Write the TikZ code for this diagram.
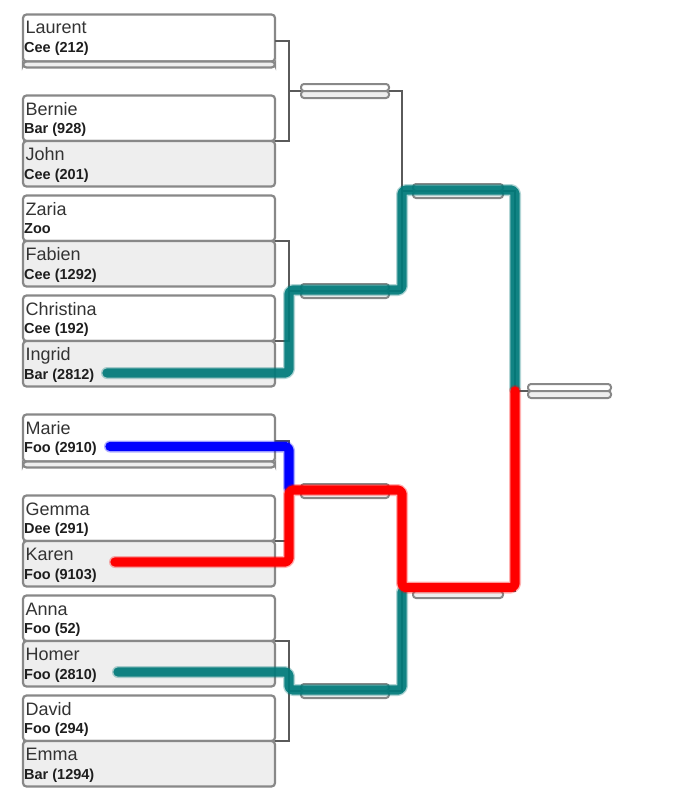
\documentclass[tikz,border=0pt]{standalone}
\usepackage{fontspec}
\setmainfont{Liberation Sans}
\usetikzlibrary{calc}
\definecolor{boxgray}{HTML}{888888}
\definecolor{slotfill}{HTML}{EEEEEE}
\definecolor{conngray}{HTML}{5A5A5A}
\definecolor{hlteal}{HTML}{007A7A}
\definecolor{hlred}{HTML}{FF0000}
\definecolor{hlblue}{HTML}{0000FF}
\definecolor{namecol}{HTML}{333333}
\definecolor{subcol}{HTML}{1E1E1E}
\tikzset{
  slot/.style={draw=boxgray, line width=2.2pt, rounded corners=3.5pt, inner sep=0pt, outer sep=0pt, anchor=north west, minimum width=252pt},
  tinyslot/.style={draw=boxgray, line width=2pt, rounded corners=3pt, inner sep=0pt, outer sep=0pt, anchor=north west, minimum height=7pt},
  nm/.style={anchor=base west, inner sep=0pt, text=namecol, font=\fontsize{18}{20}\selectfont},
  sb/.style={anchor=base west, inner sep=0pt, text=subcol, font=\fontsize{14.5}{16}\selectfont\bfseries},
  conn/.style={draw=conngray, line width=1.4pt},
  hlcore/.style={line width=9.3pt, line cap=round, line join=round, rounded corners=4pt},
  hlhalo/.style={line width=12pt, line cap=round, line join=round, rounded corners=4pt, opacity=0.3},
}
% team slot: name, top y, height, fill, title, subtitle
\newcommand\tslot[6]{%
  \node[slot, fill=#4, minimum height=#3pt] (#1) at (23,#2) {};
  \node[nm] (#1-n) at ($(#1.north west)+(2.5,19.5)$) {#5};
  \node[sb] (#1-s) at ($(#1.north west)+(1,38)$) {#6};
}
% small result box: name, left x, centre y, width
\newcommand\rbox[4]{%
  \node[tinyslot, fill=white, minimum width=#4pt] (#1t) at (#2,#3-7) {};
  \node[tinyslot, fill=slotfill, minimum width=#4pt] (#1b) at (#2,#3) {};
}
\begin{document}
\begin{tikzpicture}[x=1pt,y=-1pt]
\fill[white] (0,0) rectangle (680,792);
\useasboundingbox (0,0) rectangle (680,792);

% ---- round 1 ----
\tslot{lau}{14.5}{47}{white}{Laurent}{Cee (212)}
\node[slot, fill=slotfill, minimum height=6pt] (lau0) at (23,61.5) {};
\tslot{ber}{95.5}{45.5}{white}{Bernie}{Bar (928)}
\tslot{joh}{141}{45.5}{slotfill}{John}{Cee (201)}
\tslot{zar}{195.5}{45.5}{white}{Zaria}{Zoo}
\tslot{fab}{241}{45.5}{slotfill}{Fabien}{Cee (1292)}
\tslot{chr}{295.5}{45.5}{white}{Christina}{Cee (192)}
\tslot{ing}{341}{45.5}{slotfill}{Ingrid}{Bar (2812)}
\tslot{mar}{414.5}{47}{white}{Marie}{Foo (2910)}
\node[slot, fill=slotfill, minimum height=6pt] (mar0) at (23,461.5) {};
\tslot{gem}{495.5}{45.5}{white}{Gemma}{Dee (291)}
\tslot{kar}{541}{45.5}{slotfill}{Karen}{Foo (9103)}
\tslot{ann}{595.5}{45.5}{white}{Anna}{Foo (52)}
\tslot{hom}{641}{45.5}{slotfill}{Homer}{Foo (2810)}
\tslot{dav}{695.5}{45.5}{white}{David}{Foo (294)}
\tslot{emm}{741}{45.5}{slotfill}{Emma}{Bar (1294)}

% ---- later rounds ----
\rbox{ra}{301}{91}{88}
\rbox{rb}{301}{291}{88}
\rbox{rc}{301}{491}{88}
\rbox{rd}{301}{691}{88}
\rbox{sa}{413}{191}{90}
\rbox{sb}{413}{591}{90}
\rbox{fi}{528}{391}{83}

% match mid points (right side)
\coordinate (m1) at ($(lau.north east)!0.5!(lau0.south east)$);
\coordinate (m2) at (ber.south east);
\coordinate (m3) at (zar.south east);
\coordinate (m4) at (chr.south east);
\coordinate (m5) at ($(mar.north east)!0.5!(mar0.south east)$);
\coordinate (m6) at (gem.south east);
\coordinate (m7) at (ann.south east);
\coordinate (m8) at (dav.south east);

% junctions
\coordinate (j1) at ($(rat.south west)+(-12,0)$);
\coordinate (j2) at ($(rbt.south west)+(-12,0)$);
\coordinate (j3) at ($(rct.south west)+(-12,0)$);
\coordinate (j4) at ($(rdt.south west)+(-12,0)$);
\coordinate (k1) at ($(sat.south west)+(-11,0)$);
\coordinate (k2) at ($(sbt.south west)+(-11,0)$);
\coordinate (l1) at ($(fit.south west)+(-13,0)$);

% ---- thin bracket connectors ----
\draw[conn] (m1) -| (j1) |- (m2);
\draw[conn] (j1) -- (rat.south west);
\draw[conn] (m3) -| (j2) |- (m4);
\draw[conn] (j2) -- (rbt.south west);
\draw[conn] (m5) -| (j3) |- (m6);
\draw[conn] (j3) -- (rct.south west);
\draw[conn] (m7) -| (j4) |- (m8);
\draw[conn] (j4) -- (rdt.south west);
\draw[conn] (rat.south east) -| (k1) |- (rbt.south east);
\draw[conn] (k1) -- (sat.south west);
\draw[conn] (rct.south east) -| (k2) |- (rdt.south east);
\draw[conn] (k2) -- (sbt.south west);
\draw[conn] (sat.south east) -| (l1) |- (sbt.south east);
\draw[conn] (l1) -- (fit.south west);

% ---- highlighted paths ----
\coordinate (s1) at (107,373);
\coordinate (t1a) at (289,290);
\coordinate (t1b) at (402,190);
\coordinate (t1c) at (515,389);
\coordinate (s4) at (118,672);
\coordinate (t4a) at (289,690);
\coordinate (t4b) at (402,592);
\coordinate (s2) at (110,446.5);
\coordinate (t2a) at (289,488);
\coordinate (s3) at (115,562);
\coordinate (t3a) at (289,490);
\coordinate (t3b) at (402,587.5);
\coordinate (t3c) at (515,391);

\draw[hlhalo, draw=hlteal] (s1) -| (t1a) -| (t1b) -| (t1c);
\draw[hlcore, draw=hlteal, draw opacity=0.9] (s1) -| (t1a) -| (t1b) -| (t1c);
\draw[hlhalo, draw=hlteal] (s4) -| (t4a) -| (t4b);
\draw[hlcore, draw=hlteal, draw opacity=0.9] (s4) -| (t4a) -| (t4b);
\draw[hlhalo, draw=hlblue] (s2) -| (t2a);
\draw[hlcore, draw=hlblue] (s2) -| (t2a);
\draw[hlhalo, draw=hlred] (s3) -| (t3a) -| (t3b) -| (t3c);
\draw[hlcore, draw=hlred] (s3) -| (t3a) -| (t3b) -| (t3c);
\end{tikzpicture}
\end{document}
